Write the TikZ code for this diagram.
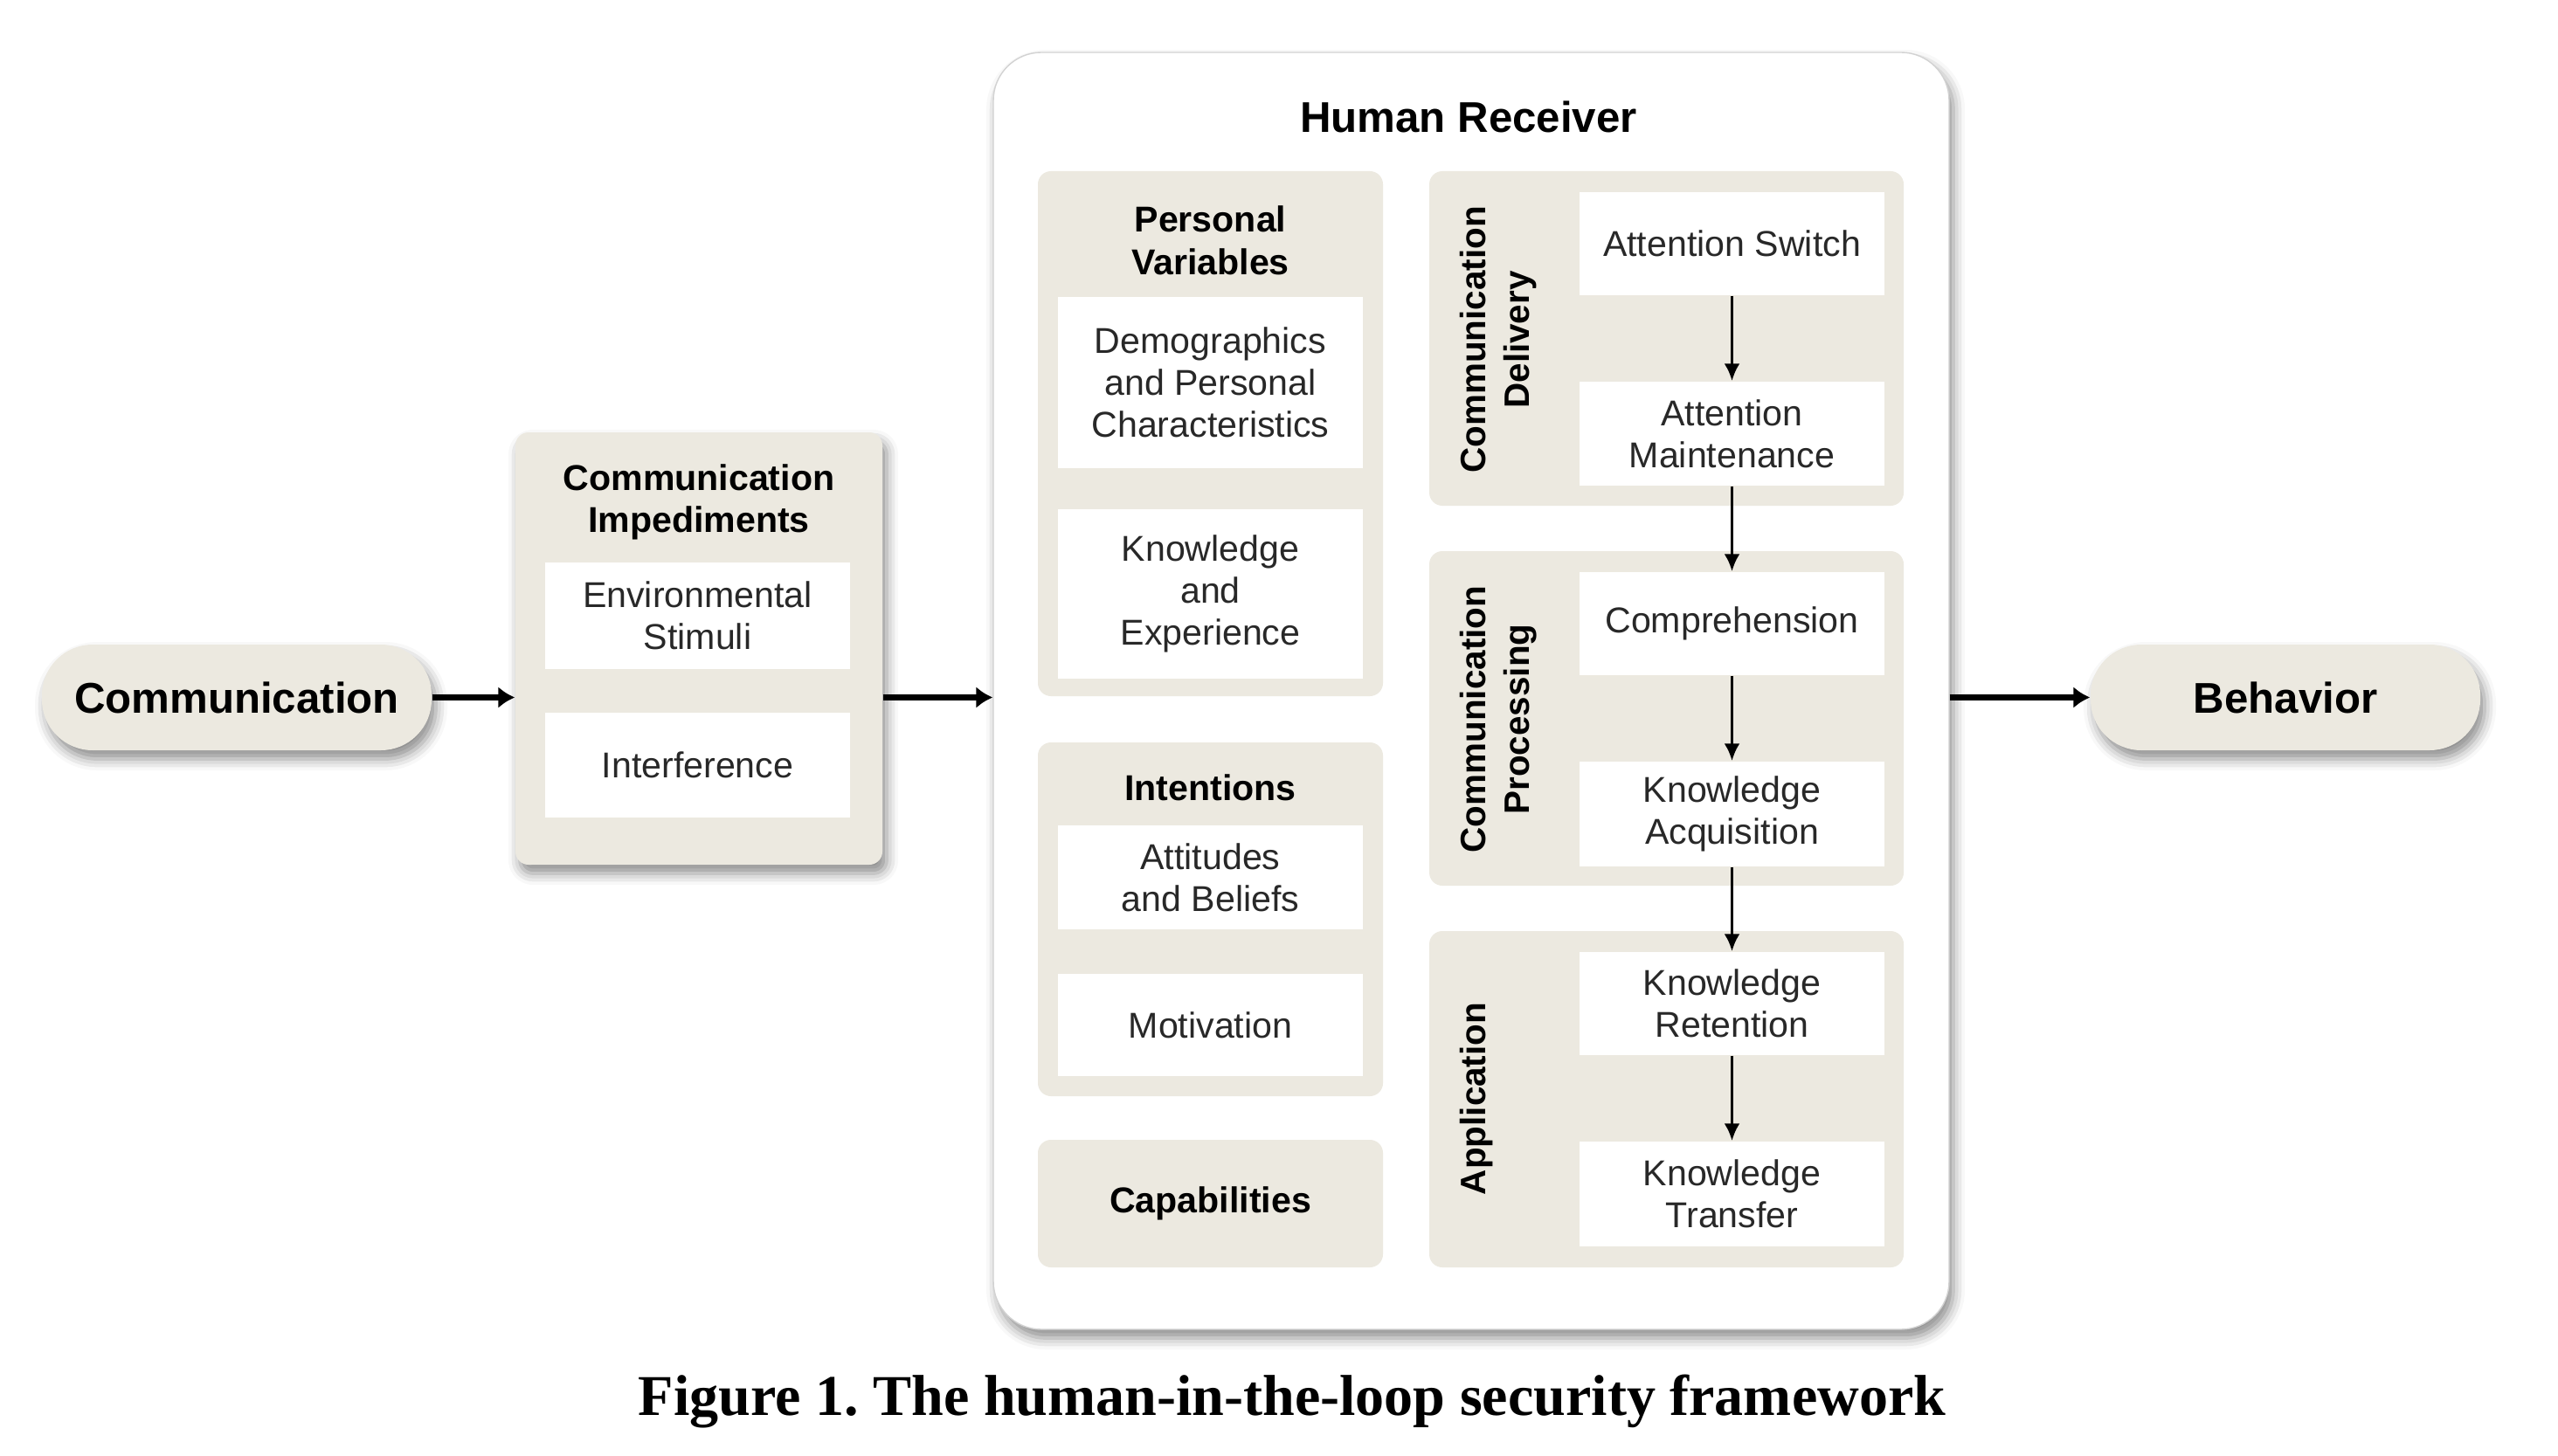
\documentclass[tikz,border=0pt]{standalone}
\usepackage{fontspec}
\setmainfont{Liberation Sans}
\newfontfamily\capfont{Liberation Serif}
\usetikzlibrary{arrows.meta,shadows.blur}
\frenchspacing

\definecolor{beige}{RGB}{236,233,224}
\definecolor{itemtext}{RGB}{40,40,40}

\tikzset{
  softshadow/.style={blur shadow={shadow xshift=0.5mm, shadow yshift=-1mm,
      shadow blur radius=1.3mm, shadow opacity=45}},
  pill/.style={fill=beige, rounded corners=5.8mm, minimum width=4.46cm,
      minimum height=1.21cm, softshadow,
      font=\fontsize{14}{17}\selectfont\bfseries},
  group/.style={fill=beige, rounded corners=1.5mm, inner sep=0pt},
  item/.style={fill=white, minimum width=3.49cm, inner sep=0pt, align=center,
      text=itemtext, font=\fontsize{11.7}{13.6}\selectfont},
  grouptitle/.style={align=center, font=\fontsize{11.7}{13.8}\selectfont\bfseries},
  sidelabel/.style={rotate=90, align=center,
      font=\fontsize{11.5}{14.3}\selectfont\bfseries},
  flow/.style={-{Latex[length=1.9mm,width=2.5mm]}, line width=2pt},
  seq/.style={-{Latex[length=2mm,width=1.8mm]}, line width=1.1pt}
}

\begin{document}
\begin{tikzpicture}
  \useasboundingbox (0,0) rectangle (29.28,-16.66);

  % start and end
  \node[pill] (comm) at (2.71,-7.985) {Communication};
  \node[pill] (behavior) at (26.16,-7.985) {Behavior};

  % impediments
  \node[group, minimum width=4.2cm, minimum height=4.95cm, softshadow]
    (imped) at (8.00,-7.425) {};
  \node[grouptitle] (impedtitle) at (8.00,-5.75) {Communication\\Impediments};
  \node[item, minimum height=1.22cm] (envstim) at (7.985,-7.05) {Environmental\\Stimuli};
  \node[item, minimum height=1.20cm] (interf) at (7.985,-8.76) {Interference};

  % human receiver
  \node[fill=white, draw=gray!35, rounded corners=5.5mm, minimum width=10.94cm,
    minimum height=14.62cm, softshadow] (hr) at (16.84,-7.91) {};
  \node[font=\fontsize{14}{17}\selectfont\bfseries] (hrtitle) at (16.81,-1.344) {Human Receiver};

  % left column
  \node[group, minimum width=3.95cm, minimum height=6.01cm] (persvar) at (13.855,-4.965) {};
  \node[grouptitle] (persvartitle) at (13.855,-2.754) {Personal\\Variables};
  \node[item, minimum height=1.96cm] (demo) at (13.855,-4.38)
    {Demographics\\and Personal\\Characteristics};
  \node[item, minimum height=1.94cm] (knowexp) at (13.855,-6.80) {Knowledge\\and\\Experience};

  \node[group, minimum width=3.95cm, minimum height=4.05cm] (intent) at (13.855,-10.525) {};
  \node[grouptitle] (intenttitle) at (13.855,-9.02) {Intentions};
  \node[item, minimum height=1.19cm] (attitudes) at (13.855,-10.045) {Attitudes\\and Beliefs};
  \node[item, minimum height=1.17cm] (motiv) at (13.855,-11.735) {Motivation};

  \node[group, grouptitle, minimum width=3.95cm, minimum height=1.46cm]
    (capab) at (13.855,-13.78) {Capabilities};

  % right column
  \node[group, minimum width=5.43cm, minimum height=3.83cm] (delivery) at (19.075,-3.875) {};
  \node[sidelabel] (deliverylabel) at (17.15,-3.89) {Communication\\Delivery};
  \node[item, minimum height=1.18cm] (attswitch) at (19.825,-2.79) {Attention Switch};
  \node[item, minimum height=1.19cm] (attmaint) at (19.825,-4.965) {Attention\\Maintenance};

  \node[group, minimum width=5.43cm, minimum height=3.83cm] (processing) at (19.075,-8.225) {};
  \node[sidelabel] (processinglabel) at (17.15,-8.235) {Communication\\Processing};
  \node[item, minimum height=1.18cm] (compr) at (19.825,-7.14) {Comprehension};
  \node[item, minimum height=1.20cm] (acquis) at (19.825,-9.32) {Knowledge\\Acquisition};

  \node[group, minimum width=5.43cm, minimum height=3.85cm] (applic) at (19.075,-12.585) {};
  \node[sidelabel] (appliclabel) at (16.90,-12.58) {Application};
  \node[item, minimum height=1.18cm] (retent) at (19.825,-11.49) {Knowledge\\Retention};
  \node[item, minimum height=1.20cm] (transf) at (19.825,-13.67) {Knowledge\\Transfer};

  % connectors
  \draw[flow] (comm.east) -- (comm.east -| imped.west);
  \draw[flow] (imped.east |- comm.east) -- (hr.west |- comm.east);
  \draw[flow] (hr.east |- behavior.west) -- (behavior.west);
  \draw[seq] (attswitch) -- (attmaint);
  \draw[seq] (attmaint) -- (compr);
  \draw[seq] (compr) -- (acquis);
  \draw[seq] (acquis) -- (retent);
  \draw[seq] (retent) -- (transf);

  \node[font=\capfont\fontsize{18.8}{22}\selectfont\bfseries] (caption) at (14.79,-16.05)
    {Figure 1. The human-in-the-loop security framework};
\end{tikzpicture}
\end{document}
